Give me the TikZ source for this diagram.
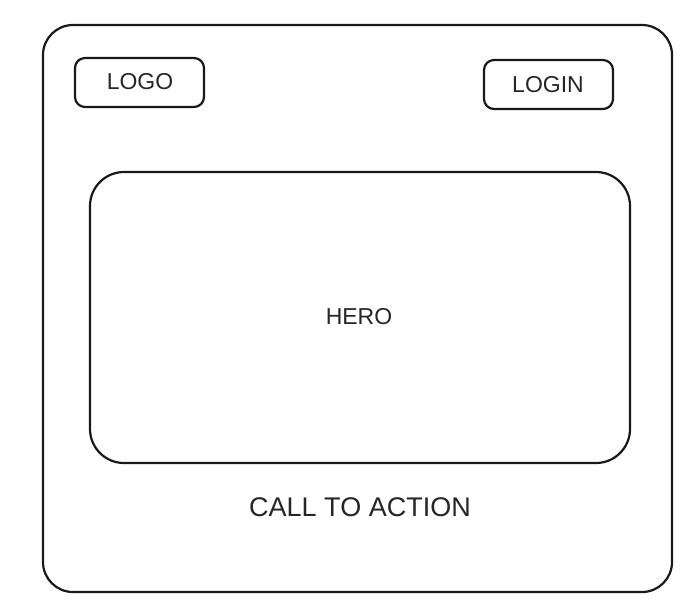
\documentclass[tikz,border=0pt]{standalone}
\usepackage{fontspec}
\setmainfont{Liberation Sans}
\begin{document}
\begin{tikzpicture}[x=1pt,y=-1pt,
  box/.style={draw=black!90,line width=2.2pt,line join=round},
  lbl/.style={font=\fontsize{23}{25}\selectfont,text=black!85,inner sep=0pt}]
\useasboundingbox[fill=white] (0,0) rectangle (700,605);
\draw[box,rounded corners=30pt] (43,25) rectangle (672,592);
\draw[box,rounded corners=10pt] (75,58) rectangle (204,107);
\draw[box,rounded corners=10pt] (484,60) rectangle (613,109);
\draw[box,rounded corners=34pt] (90,172) rectangle (630,463);
\node[lbl] (logo) at (140,82) {LOGO};
\node[lbl] (login) at (548,85) {LOGIN};
\node[lbl] (hero) at (359,317) {HERO};
\node[lbl,font=\fontsize{27}{29}\selectfont] (cta) at (360,507) {CALL TO ACTION};
\end{tikzpicture}
\end{document}
